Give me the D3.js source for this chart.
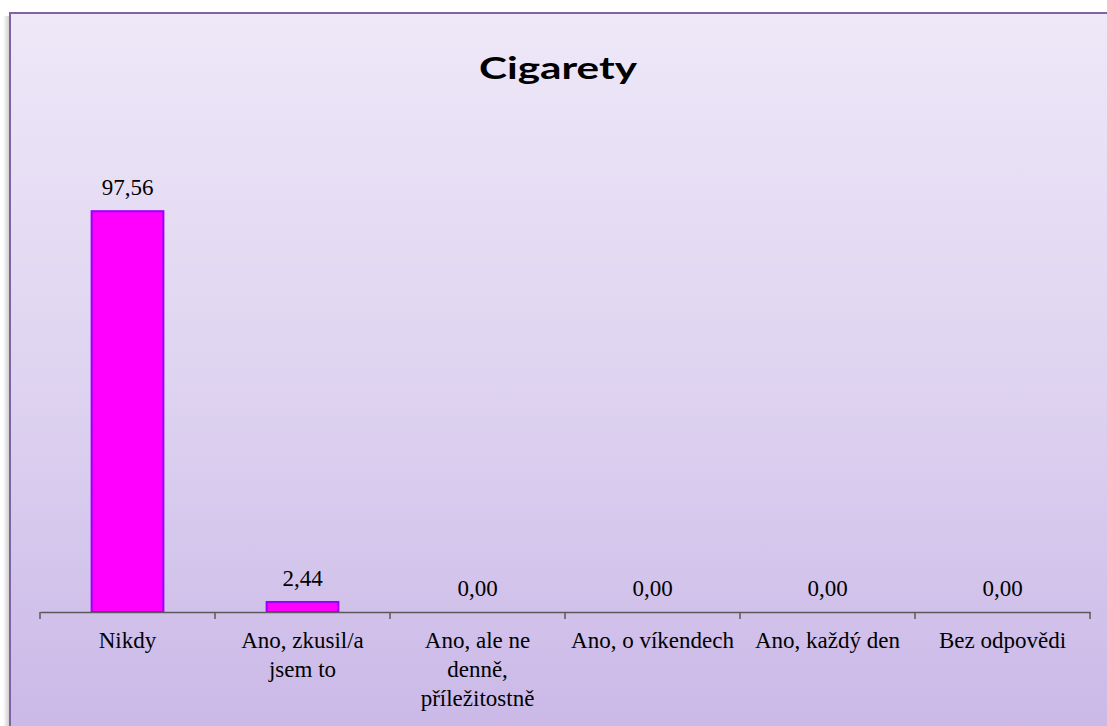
<!DOCTYPE html>
<html>
<head>
<meta charset="utf-8">
<script src="https://cdn.jsdelivr.net/npm/d3@7"></script>
<style>
  html, body { margin: 0; padding: 0; background: #fff; }
  svg { display: block; }
  .serif { font-family: 'Liberation Serif', 'DejaVu Serif', serif; font-size: 23px; }
</style>
</head>
<body>
<div class="chart-view"></div>
<script>
var categories = ['Nikdy', 'Ano, zkusil/a\njsem to', 'Ano, ale ne\ndenně,\npříležitostně',
  'Ano, o víkendech', 'Ano, každý den', 'Bez odpovědi']
var values = [97.56, 2.44, 0, 0, 0, 0]
var title = 'Cigarety'

var width = 1107
var height = 726

var svg = d3.select('.chart-view')
  .append('svg')
  .attr('width', width)
  .attr('height', height)

var defs = svg.append('defs')

var bg = defs.append('linearGradient')
  .attr('id', 'bg')
  .attr('x1', 0).attr('y1', 0).attr('x2', 0).attr('y2', 1)
bg.append('stop').attr('offset', '0%').attr('stop-color', '#eee8f8')
bg.append('stop').attr('offset', '50%').attr('stop-color', '#ded3f0')
bg.append('stop').attr('offset', '100%').attr('stop-color', '#c9b6e7')

var shadow = defs.append('linearGradient')
  .attr('id', 'shadow')
  .attr('x1', 0).attr('y1', 0).attr('x2', 1).attr('y2', 0)
shadow.append('stop').attr('offset', '0%').attr('stop-color', '#fff')
shadow.append('stop').attr('offset', '100%').attr('stop-color', '#c8c8c8')

// shadow left of the frame
svg.append('rect')
  .attr('x', 3).attr('y', 16)
  .attr('width', 7).attr('height', height)
  .attr('fill', 'url(#shadow)')

// chart frame, runs off the right/bottom edge
svg.append('rect')
  .attr('x', 10).attr('y', 13)
  .attr('width', width + 20).attr('height', height + 20)
  .attr('fill', 'url(#bg)')
  .attr('stroke', '#7f63a3')
  .attr('stroke-width', 2)

svg.append('text')
  .attr('x', 558)
  .attr('y', 79)
  .attr('text-anchor', 'middle')
  .attr('textLength', 158)
  .attr('lengthAdjust', 'spacingAndGlyphs')
  .style('font-family', 'Lato, "Open Sans", sans-serif')
  .style('font-weight', 'bold')
  .style('font-size', '31px')
  .attr('fill', '#000')
  .text(title)

var x = d3.scaleBand()
  .domain(categories)
  .range([40, 1090])
  .paddingInner(0.59)
  .paddingOuter(0.295)

var y = d3.scaleLinear()
  .domain([0, 120])
  .range([612, 119])

svg.selectAll('rect.bar')
  .data(values)
  .enter()
  .append('rect')
  .attr('class', 'bar')
  .attr('x', function(d, i) { return x(categories[i]) })
  .attr('y', function(d) { return y(d) })
  .attr('width', x.bandwidth())
  .attr('height', function(d) { return y(0) - y(d) })
  .attr('fill', '#ff00ff')
  .attr('stroke', '#9b00ff')
  .attr('stroke-width', 2)
  .style('display', function(d) { return d > 0 ? null : 'none' })

svg.selectAll('text.val')
  .data(values)
  .enter()
  .append('text')
  .attr('class', 'val serif')
  .attr('x', function(d, i) { return x(categories[i]) + x.bandwidth() / 2 })
  .attr('y', function(d) { return y(d) - 16 })
  .attr('text-anchor', 'middle')
  .attr('fill', '#000')
  .text(function(d) { return d.toFixed(2).replace('.', ',') })

// category axis
var axis = svg.append('g')
  .attr('transform', 'translate(0,' + y(0) + ')')
  .call(d3.axisBottom(x).tickSize(0).tickPadding(0))
  .attr('font-family', null)
  .attr('font-size', null)

axis.select('.domain')
  .attr('stroke', '#5a5a5a')
  .attr('stroke-width', 1.5)

var bounds = d3.range(categories.length + 1).map(function(i) { return 40 + i * x.step() })
axis.selectAll('line.sep')
  .data(bounds)
  .enter()
  .append('line')
  .attr('class', 'sep')
  .attr('x1', function(d) { return d })
  .attr('x2', function(d) { return d })
  .attr('y1', 0)
  .attr('y2', 7)
  .attr('stroke', '#5a5a5a')
  .attr('stroke-width', 1.5)

axis.selectAll('.tick text').each(function(d) {
  var t = d3.select(this)
  var lines = d.split('\n')
  t.text(null)
    .attr('class', 'serif')
    .attr('y', 36)
    .attr('dy', null)
    .attr('fill', '#000')
  lines.forEach(function(l, i) {
    t.append('tspan')
      .attr('x', 0)
      .attr('y', 36 + i * 29)
      .text(l)
  })
})
</script>
</body>
</html>
